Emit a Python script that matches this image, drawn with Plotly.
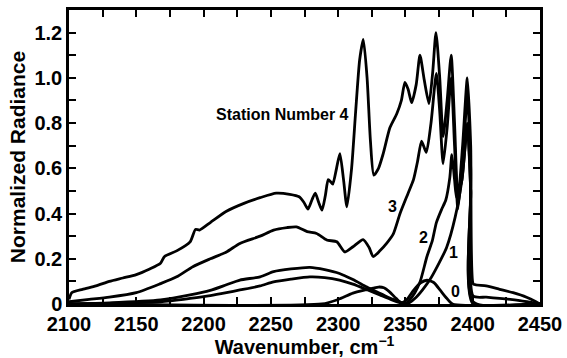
import plotly.graph_objects as go

# Station 4
x4 = [2100, 2102, 2110, 2120, 2130, 2140, 2150, 2160, 2168, 2171, 2180, 2190, 2194, 2197, 2205, 2217, 2230, 2242,
      2254, 2264, 2271, 2274.5, 2277.6, 2280.5, 2283, 2285.5, 2288, 2290.5, 2292.6, 2294.5, 2296, 2298.8, 2301.3,
      2304, 2306.5, 2310, 2313, 2316, 2318.7, 2321.5, 2324, 2326.5, 2330, 2333.5, 2338.5, 2343.5, 2347, 2349.6,
      2352, 2354.6, 2358, 2360.8, 2364, 2367.5, 2370.2, 2372.7, 2375.5, 2378, 2381, 2384, 2386.5, 2389, 2392.5,
      2396, 2398.5, 2400.3, 2402, 2410, 2420, 2430, 2440, 2447, 2450]
y4 = [0.02, 0.05, 0.065, 0.08, 0.10, 0.115, 0.13, 0.155, 0.18, 0.21, 0.235, 0.275, 0.33, 0.327, 0.36, 0.41, 0.445,
      0.47, 0.49, 0.485, 0.474, 0.45, 0.42, 0.46, 0.49, 0.45, 0.415, 0.48, 0.55, 0.54, 0.53, 0.6, 0.665, 0.55, 0.43,
      0.6, 0.85, 1.08, 1.17, 1.0, 0.72, 0.57, 0.6, 0.665, 0.78, 0.84, 0.9, 0.98, 0.95, 0.89, 0.97, 1.10, 0.99, 0.886,
      1.02, 1.20, 1.0, 0.74, 0.9, 1.10, 0.8, 0.46, 0.7, 1.0, 0.7, 0.09, 0.085, 0.08, 0.065, 0.05, 0.03, 0.01, 0.0]

# Station 3
x3 = [2100, 2115, 2130, 2150, 2168, 2180, 2192, 2205, 2217, 2227, 2242, 2252, 2262, 2269, 2277, 2284, 2291.5, 2299,
      2305, 2311, 2318.6, 2323, 2326, 2331, 2336, 2341, 2346, 2352, 2356, 2359, 2362, 2365.5, 2369, 2373, 2375.5,
      2378, 2381, 2384, 2386.5, 2389, 2392.5, 2396, 2398.5, 2400.3, 2410, 2420, 2435, 2450]
y3 = [0.01, 0.02, 0.03, 0.05, 0.09, 0.12, 0.165, 0.2, 0.23, 0.268, 0.30, 0.327, 0.338, 0.341, 0.32, 0.312, 0.283,
      0.275, 0.23, 0.253, 0.285, 0.25, 0.21, 0.235, 0.268, 0.31, 0.40, 0.49, 0.55, 0.63, 0.72, 0.67, 0.8, 1.02, 0.85,
      0.62, 0.78, 1.0, 0.7, 0.42, 0.62, 0.92, 0.6, 0.035, 0.03, 0.025, 0.015, 0.0]

# Station 2
x2 = [2100, 2130, 2168, 2190, 2205, 2217, 2227, 2242, 2252, 2265, 2279, 2290, 2301, 2311, 2321, 2330, 2337, 2343.5,
      2350, 2353, 2357, 2361, 2366, 2370, 2373, 2377, 2380, 2383, 2384.5, 2386.5, 2388, 2392, 2396, 2398.5, 2400.3,
      2450]
y2 = [0.0, 0.005, 0.018, 0.04, 0.06, 0.085, 0.106, 0.12, 0.143, 0.155, 0.162, 0.152, 0.135, 0.108, 0.076, 0.05,
      0.03, 0.015, 0.003, 0.018, 0.05, 0.1, 0.21, 0.28, 0.36, 0.42, 0.46, 0.56, 0.66, 0.55, 0.47, 0.55, 0.8, 0.5,
      0.01, 0.0]

# Station 1
x1 = [2100, 2130, 2168, 2190, 2205, 2217, 2227, 2242, 2252, 2265, 2279, 2290, 2301, 2311, 2322, 2331, 2340, 2347,
      2352, 2358, 2363, 2368, 2374, 2380.6, 2387, 2392, 2396, 2398.5, 2400.3, 2450]
y1 = [0.0, 0.003, 0.01, 0.025, 0.037, 0.05, 0.062, 0.08, 0.098, 0.11, 0.12, 0.117, 0.106, 0.088, 0.062, 0.04, 0.018,
      0.004, 0.003, 0.03, 0.065, 0.106, 0.17, 0.25, 0.385, 0.55, 0.78, 0.5, 0.0, 0.0]

# Station 0
x0 = [2100, 2288, 2300, 2311, 2320, 2326, 2330, 2334, 2338, 2343, 2347, 2351, 2356, 2361, 2366, 2371, 2376, 2380,
      2385, 2450]
y0 = [0.0, 0.0, 0.02, 0.048, 0.062, 0.07, 0.075, 0.072, 0.055, 0.025, 0.005, 0.02, 0.06, 0.092, 0.105, 0.095, 0.06,
      0.03, 0.0, 0.0]

series = [(x4, y4), (x3, y3), (x2, y2), (x1, y1), (x0, y0)]

x_tickvals = list(range(2100, 2451, 25))
x_ticktext = [str(v) if v % 50 == 0 else " " for v in x_tickvals]
y_tickvals = [round(0.1 * i, 1) for i in range(14)]
y_ticktext = ["0", " ", "0.2", " ", "0.4", " ", "0.6", " ", "0.8", " ", "1.0", " ", "1.2", " "]

labels = ["Station Number 4", "3", "2", "1", "0"]
label_x = [2258.6, 2340.7, 2363.7, 2385.7, 2387.5]
label_y = [0.837, 0.433, 0.294, 0.227, 0.057]

FONT = "Liberation Sans, Arial, sans-serif"

fig = go.Figure()
for xs, ys in series:
    fig.add_trace(go.Scatter(x=xs, y=ys, mode="lines",
                             line=dict(color="black", width=2.8, shape="spline", smoothing=0.6),
                             showlegend=False, hoverinfo="skip"))

for t, lx, ly in zip(labels, label_x, label_y):
    fig.add_annotation(x=lx, y=ly, text=t, showarrow=False,
                       font=dict(family=FONT, size=16, color="black", weight="bold"))

axis_common = dict(showline=True, linecolor="black", linewidth=2.5, mirror="ticks",
                   ticks="inside", ticklen=7, tickwidth=2, tickcolor="black",
                   showgrid=False, zeroline=False,
                   tickfont=dict(family=FONT, size=20, color="black", weight="bold"))

fig.update_xaxes(range=[2100, 2450], tickmode="array", tickvals=x_tickvals, ticktext=x_ticktext,
                 ticklabelstandoff=0,
                 title=dict(text="Wavenumber, cm<sup>\u22121</sup>", standoff=3,
                            font=dict(family=FONT, size=20, color="black", weight="bold")),
                 **axis_common)
fig.update_yaxes(range=[0, 1.3], tickmode="array", tickvals=y_tickvals, ticktext=y_ticktext,
                 title=dict(text="Normalized Radiance", standoff=4,
                            font=dict(family=FONT, size=21, color="black", weight="bold")),
                 **axis_common)

fig.update_layout(width=567, height=358, margin=dict(l=69, r=27, t=10, b=54, autoexpand=False),
                  plot_bgcolor="white", paper_bgcolor="white")

fig.write_html("out.html")
